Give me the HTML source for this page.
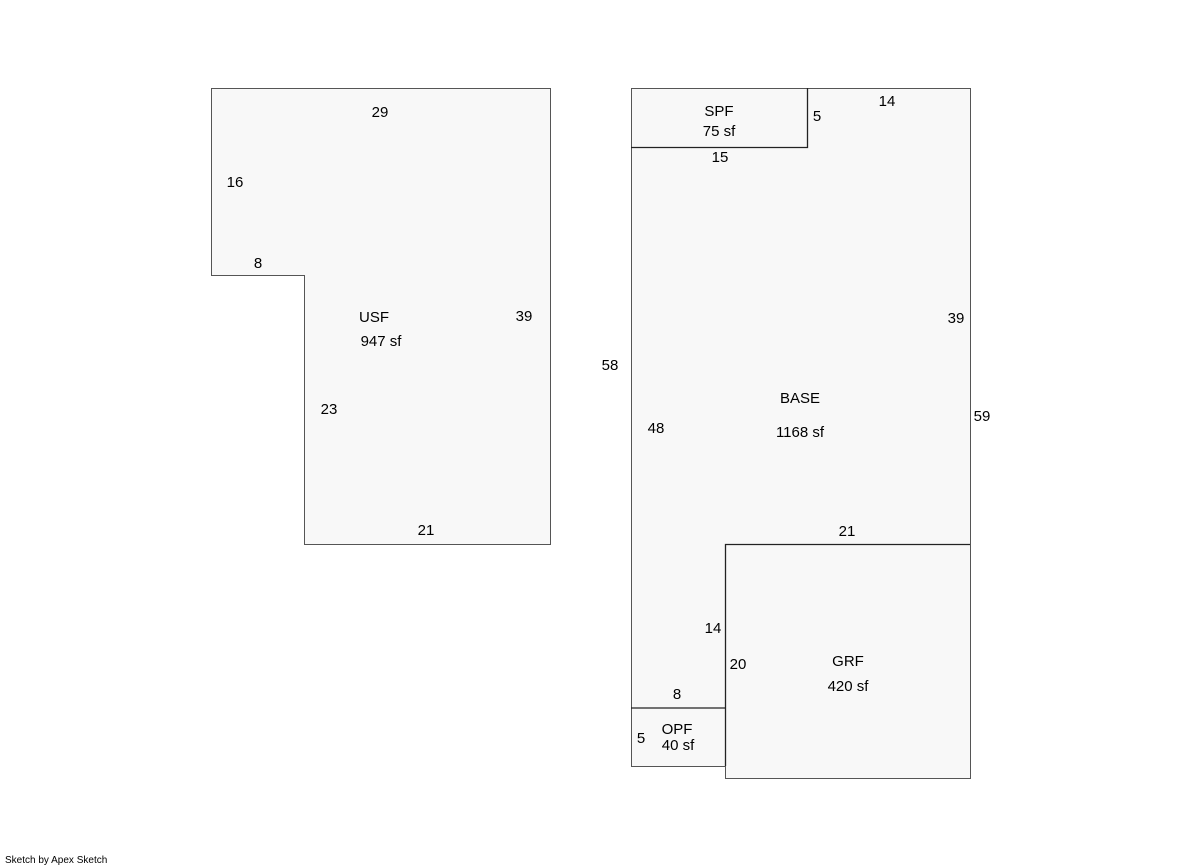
<!DOCTYPE html>
<html><head><style>body{margin:0;background:#fff}svg{display:block}</style></head><body>
<svg width="1181" height="866" xmlns="http://www.w3.org/2000/svg" font-family="Liberation Sans, Arial, sans-serif" font-size="15" fill="#000">
<g fill="#f8f8f8" stroke="#555" stroke-width="1">
<polygon points="211.5,88.5 550.5,88.5 550.5,544.5 304.5,544.5 304.5,275.5 211.5,275.5"/>
<polygon points="631.5,88.5 970.5,88.5 970.5,778.5 725.5,778.5 725.5,766.5 631.5,766.5"/>
</g>
<g fill="none" stroke="#222" stroke-width="1.3">
<polyline points="631,147.5 807.5,147.5 807.5,88"/>
<polyline points="725.5,766 725.5,544.5 970,544.5"/>
<line x1="631" y1="708" x2="725" y2="708"/>
</g>
<g text-anchor="middle">
<text x="380" y="117">29</text>
<text x="235" y="187">16</text>
<text x="258" y="268">8</text>
<text x="374" y="322">USF</text>
<text x="381" y="346">947 sf</text>
<text x="524" y="321">39</text>
<text x="329" y="414">23</text>
<text x="426" y="535">21</text>
<text x="719" y="116">SPF</text>
<text x="719" y="136">75 sf</text>
<text x="817" y="121">5</text>
<text x="887" y="106">14</text>
<text x="720" y="162">15</text>
<text x="956" y="323">39</text>
<text x="610" y="370">58</text>
<text x="800" y="403">BASE</text>
<text x="800" y="437">1168 sf</text>
<text x="656" y="433">48</text>
<text x="982" y="421">59</text>
<text x="847" y="536">21</text>
<text x="713" y="633">14</text>
<text x="738" y="669">20</text>
<text x="848" y="666">GRF</text>
<text x="848" y="691">420 sf</text>
<text x="677" y="699">8</text>
<text x="677" y="734">OPF</text>
<text x="678" y="750">40 sf</text>
<text x="641" y="743">5</text>
</g>
<text x="5" y="863" font-size="10">Sketch by Apex Sketch</text>
</svg>
</body></html>
